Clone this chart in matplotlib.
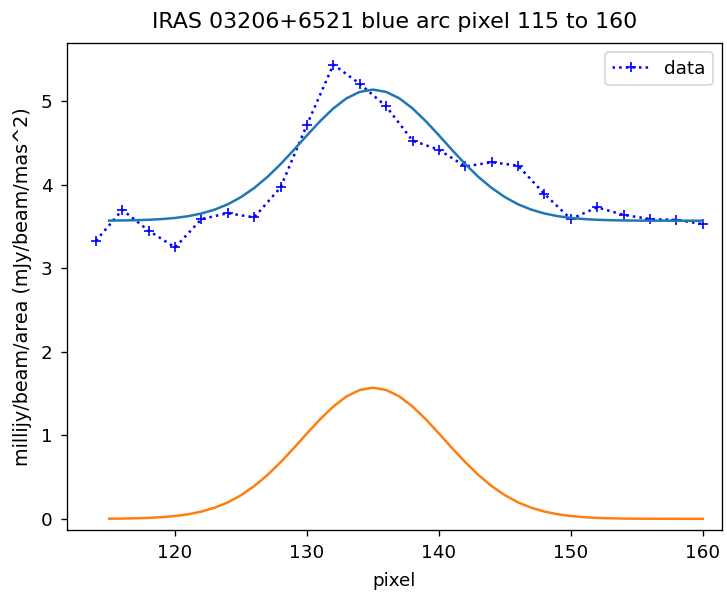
import matplotlib
matplotlib.use("Agg")
import matplotlib.pyplot as plt

# measured points, every second pixel
pix = [114, 116, 118, 120, 122, 124, 126, 128, 130, 132, 134, 136,
       138, 140, 142, 144, 146, 148, 150, 152, 154, 156, 158, 160]
flux = [3.33, 3.70, 3.45, 3.25, 3.59, 3.66, 3.61, 3.97, 4.72, 5.44, 5.21, 4.94,
        4.53, 4.42, 4.22, 4.27, 4.23, 3.89, 3.59, 3.73, 3.64, 3.59, 3.58, 3.53]

# fitted curve, pixel 115 to 160
fit_pix = list(range(115, 161))
gauss = [0.0016, 0.0032, 0.0061, 0.0111, 0.0195, 0.0332, 0.0545, 0.0866, 0.133, 0.197,
         0.283, 0.392, 0.524, 0.678, 0.847, 1.023, 1.193, 1.345, 1.466, 1.543,
         1.570,
         1.543, 1.466, 1.345, 1.193, 1.023, 0.847, 0.678, 0.524, 0.392, 0.283,
         0.197, 0.133, 0.0866, 0.0545, 0.0332, 0.0195, 0.0111, 0.0061, 0.0032, 0.0016,
         0.0008, 0.0004, 0.0002, 0.0001, 0.0000]
fit = [3.5716, 3.5732, 3.5761, 3.5811, 3.5895, 3.6032, 3.6245, 3.6566, 3.703, 3.767,
       3.853, 3.962, 4.094, 4.248, 4.417, 4.593, 4.763, 4.915, 5.036, 5.113,
       5.140,
       5.113, 5.036, 4.915, 4.763, 4.593, 4.417, 4.248, 4.094, 3.962, 3.853,
       3.767, 3.703, 3.6566, 3.6245, 3.6032, 3.5895, 3.5811, 3.5761, 3.5732, 3.5716,
       3.5708, 3.5704, 3.5702, 3.5701, 3.5700]

fig = plt.figure(figsize=(727 / 120, 601 / 120), dpi=120)
ax = fig.add_axes([0.0917, 0.118, 0.901, 0.810])

ax.plot(pix, flux, 'b+:', label='data')
ax.plot(fit_pix, fit)
ax.plot(fit_pix, gauss)

ax.set_xlim(111.78, 161.44)
ax.set_ylim(-0.135, 5.695)
ax.tick_params(labelsize=11, pad=5)
ax.set_xlabel('pixel', fontsize=11, labelpad=6)
ax.set_ylabel('millijy/beam/area (mJy/beam/mas^2)', fontsize=11.5, labelpad=5)
ax.set_title('IRAS 03206+6521 blue arc pixel 115 to 160', fontsize=13.3, pad=9)
ax.legend(loc='upper right', fontsize=11)

fig.savefig('out.png', dpi=120)
